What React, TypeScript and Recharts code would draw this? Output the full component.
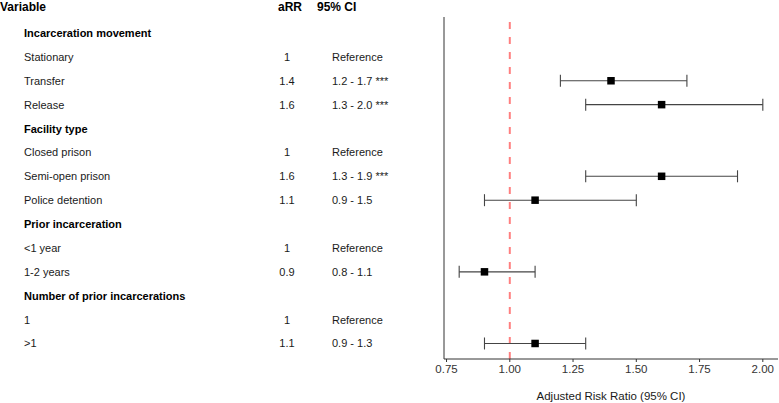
import {
  Customized,
  ErrorBar,
  ReferenceLine,
  Scatter,
  ScatterChart,
  XAxis,
  YAxis,
} from 'recharts'

const FONT = '"Liberation Sans", Arial, sans-serif'
const AXIS = '#333333'
const TEXT = '#1a1a1a'
const NULL_LINE = '#ff7f7f'

// Table rows, top to bottom
const variables = [
  'Incarceration movement',
  'Stationary',
  'Transfer',
  'Release',
  'Facility type',
  'Closed prison',
  'Semi-open prison',
  'Police detention',
  'Prior incarceration',
  '<1 year',
  '1-2 years',
  'Number of prior incarcerations',
  '1',
  '>1',
]
const isGroup = [true, false, false, false, true, false, false, false, true, false, false, true, false, false]
const aRR: (number | null)[] = [null, 1, 1.4, 1.6, null, 1, 1.6, 1.1, null, 1, 0.9, null, 1, 1.1]
const ciLow: (number | null)[] = [null, null, 1.2, 1.3, null, null, 1.3, 0.9, null, null, 0.8, null, null, 0.9]
const ciHigh: (number | null)[] = [null, null, 1.7, 2.0, null, null, 1.9, 1.5, null, null, 1.1, null, null, 1.3]
const stars = ['', '', '***', '***', '', '', '***', '', '', '', '', '', '', '']

const xTicks = [0.75, 1, 1.25, 1.5, 1.75, 2]
const rowTicks = variables.map((_, i) => i)

const points = variables
  .map((_, i) => ({ i }))
  .filter(({ i }) => ciLow[i] != null && ciHigh[i] != null && aRR[i] != null)
  .map(({ i }) => ({
    row: i,
    x: aRR[i] as number,
    err: [(aRR[i] as number) - (ciLow[i] as number), (ciHigh[i] as number) - (aRR[i] as number)],
  }))

function ciText(i: number) {
  if (aRR[i] == null) return ''
  if (ciLow[i] == null || ciHigh[i] == null) return 'Reference'
  const s = `${(ciLow[i] as number).toFixed(1)} - ${(ciHigh[i] as number).toFixed(1)}`
  return stars[i] ? `${s} ${stars[i]}` : s
}

function RowTick(props: any) {
  const { y, payload } = props
  const i = payload.value as number
  const group = isGroup[i]
  return (
    <g fontFamily={FONT} fontSize={11} fill={TEXT}>
      <text x={24} y={y} dominantBaseline="central" fontWeight={group ? 'bold' : 'normal'} fill={group ? '#000' : TEXT}>
        {variables[i]}
      </text>
      {aRR[i] != null && (
        <text x={287} y={y} dominantBaseline="central" textAnchor="middle">
          {String(aRR[i])}
        </text>
      )}
      {aRR[i] != null && (
        <text x={332} y={y} dominantBaseline="central">
          {ciText(i)}
        </text>
      )}
    </g>
  )
}

function TableHeader() {
  return (
    <g fontFamily={FONT} fontSize={12} fontWeight="bold" fill="#000">
      <text x={0} y={6.5} dominantBaseline="central">Variable</text>
      <text x={278} y={6.5} dominantBaseline="central">aRR</text>
      <text x={317} y={6.5} dominantBaseline="central">95% CI</text>
    </g>
  )
}

function Square(props: any) {
  const { cx, cy } = props
  return <rect x={cx - 3.75} y={cy - 3.75} width={7.5} height={7.5} fill="#000" />
}

export default function App() {
  return (
    <div style={{ position: 'absolute', left: 0, top: 0, width: 779, height: 403, background: '#fff' }}>
      <ScatterChart width={779} height={403} margin={{ top: 17, right: 1, bottom: 0, left: 0 }}>
        <XAxis
          type="number"
          dataKey="x"
          domain={[0.74, 2.06]}
          ticks={xTicks}
          allowDataOverflow
          tickFormatter={(v) => Number(v).toFixed(2)}
          tick={{ fill: AXIS, fontSize: 11.5, fontFamily: FONT }}
          tickSize={3}
          tickMargin={3}
          tickLine={{ stroke: AXIS }}
          axisLine={{ stroke: AXIS }}
          height={44}
          label={{
            value: 'Adjusted Risk Ratio (95% CI)',
            position: 'insideBottom',
            offset: 3,
            fill: TEXT,
            fontSize: 11.5,
            fontFamily: FONT,
          }}
        />
        <YAxis
          type="number"
          dataKey="row"
          domain={[-0.67, 13.65]}
          reversed
          ticks={rowTicks}
          interval={0}
          allowDataOverflow
          width={444}
          tickLine={false}
          axisLine={{ stroke: AXIS }}
          tick={<RowTick />}
        />
        <ReferenceLine x={1} stroke={NULL_LINE} strokeWidth={2} strokeDasharray="7 8" />
        <Scatter data={points} shape={<Square />} isAnimationActive={false}>
          <ErrorBar dataKey="err" direction="x" width={6} stroke="#444" strokeWidth={1.1} isAnimationActive={false} />
        </Scatter>
        <Customized component={TableHeader} />
      </ScatterChart>
    </div>
  )
}
